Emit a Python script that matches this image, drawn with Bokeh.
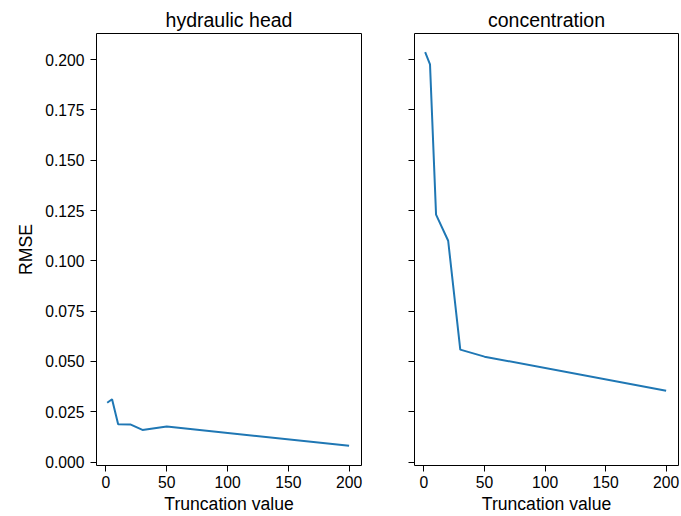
from bokeh.plotting import figure
from bokeh.layouts import row
from bokeh.models import Range1d, FixedTicker, PrintfTickFormatter
from bokeh.embed import file_html
from bokeh.resources import INLINE

# Data
truncation = [1, 5, 10, 20, 30, 50, 200]
head_rmse = [0.0295, 0.0312, 0.0188, 0.0187, 0.0160, 0.0177, 0.0081]
conc_rmse = [0.2037, 0.1977, 0.1230, 0.1100, 0.0559, 0.0524, 0.0355]
titles = ["hydraulic head", "concentration"]
x_ticks = [0, 50, 100, 150, 200]
y_ticks = [0.0, 0.025, 0.05, 0.075, 0.1, 0.125, 0.15, 0.175, 0.2]

FONT = "Liberation Sans"
LINE = "#1f77b4"
TICK_FS = "15.7px"
LABEL_FS = "17.6px"
TITLE_FS = "19.5px"


def make(title, ys, show_ylabels, width, border_left, border_right):
    p = figure(width=width, height=516, output_backend="svg", toolbar_location=None,
               x_range=Range1d(-7.8, 210.2), y_range=Range1d(-0.0017, 0.2130),
               min_border_left=border_left, min_border_right=border_right,
               min_border_top=33, min_border_bottom=49)
    p.title.text = title
    p.title.align = "center"
    p.title.text_font = FONT
    p.title.text_font_size = TITLE_FS
    p.title.text_font_style = "normal"
    p.title.text_color = "#000000"
    p.title.standoff = 6
    p.line(truncation, ys, line_color=LINE, line_width=2)
    p.grid.visible = False
    p.outline_line_color = "#000000"
    p.outline_line_width = 1
    p.outline_line_alpha = 1

    xa = p.xaxis[0]
    xa.ticker = FixedTicker(ticks=x_ticks)
    xa.minor_tick_line_color = None
    xa.major_tick_out = 6
    xa.major_tick_in = 0
    xa.major_label_standoff = 4
    xa.major_label_text_font = FONT
    xa.major_label_text_font_size = TICK_FS
    xa.major_label_text_color = "#000000"
    xa.axis_label = "Truncation value"
    xa.axis_label_text_font = FONT
    xa.axis_label_text_font_size = LABEL_FS
    xa.axis_label_text_font_style = "normal"
    xa.axis_label_text_color = "#000000"
    xa.axis_label_standoff = 3
    xa.axis_line_color = None

    ya = p.yaxis[0]
    ya.ticker = FixedTicker(ticks=y_ticks)
    ya.minor_tick_line_color = None
    ya.major_tick_out = 6
    ya.major_tick_in = 0
    ya.axis_line_color = None
    if show_ylabels:
        ya.formatter = PrintfTickFormatter(format="%.3f")
        ya.major_label_standoff = 6
        ya.major_label_text_font = FONT
        ya.major_label_text_font_size = TICK_FS
        ya.major_label_text_color = "#000000"
        ya.axis_label = "RMSE"
        ya.axis_label_text_font = FONT
        ya.axis_label_text_font_size = LABEL_FS
        ya.axis_label_text_font_style = "normal"
        ya.axis_label_text_color = "#000000"
        ya.axis_label_standoff = 6
    else:
        ya.major_label_overrides = {t: "" for t in y_ticks}
        ya.major_label_standoff = 0
    return p


p1 = make(titles[0], head_rmse, True, 388, 96, 27)
p2 = make(titles[1], conc_rmse, False, 293, 26, 3)
layout = row(p1, p2)

open("out.html", "w").write(file_html(layout, INLINE))
